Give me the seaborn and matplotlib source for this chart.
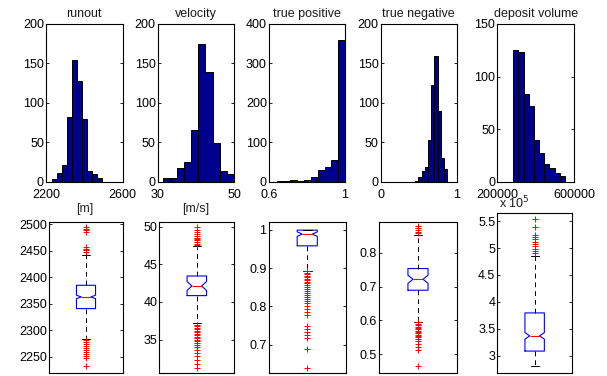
import numpy as np
import pandas as pd
import matplotlib
matplotlib.use("Agg")
import matplotlib.pyplot as plt
import seaborn as sns
from matplotlib.ticker import FuncFormatter

# Panel titles and units
titles = ["runout", "velocity", "true positive", "true negative", "deposit volume"]
units = ["[m]", "[m/s]", "", "", ""]

# Histogram counts (10 bins each) and the range the bins cover
runout_counts = [4, 11, 21, 82, 154, 128, 80, 14, 10, 5]
velocity_counts = [5, 5, 18, 25, 65, 175, 139, 49, 14, 10]
tp_counts = [2, 2, 5, 2, 5, 12, 29, 37, 55, 360]
tn_counts = [1, 6, 13, 19, 53, 123, 159, 90, 30, 16]
volume_counts = [125, 123, 83, 72, 40, 27, 17, 13, 8, 5]
hist_ranges = [(2230, 2492), (31.3, 49.9), (0.6405, 1.0), (0.452, 0.877), (283000, 553000)]

hist_xlim = [(2200, 2600), (30, 50), (0.6, 1), (0, 1), (200000, 600000)]
hist_ylim = [200, 200, 400, 200, 150]
hist_yticks = [[0, 50, 100, 150, 200], [0, 50, 100, 150, 200], [0, 100, 200, 300, 400],
               [0, 50, 100, 150, 200], [0, 50, 100, 150]]

# Box plot summaries: median, quartiles, whisker ends, notch
medians = [2363, 42.12, 0.9886, 0.7213, 337000]
q1s = [2341, 40.84, 0.958, 0.689, 308800]
q3s = [2385, 43.45, 0.999, 0.753, 379600]
whis_lo = [2284, 37.17, 0.893, 0.596, 282000]
whis_hi = [2442, 47.48, 1.0, 0.852, 484300]
notch_half = [3.2, 0.6, 0.006, 0.012, 6000]

runout_fliers = [2495, 2492, 2489, 2486, 2457, 2454, 2451, 2448,
                 2281, 2278, 2275, 2271, 2267, 2263, 2259, 2255, 2251, 2247, 2232]
velocity_fliers = [49.9, 49.6, 49.3, 49.0, 48.7, 48.5, 48.4, 48.2, 47.9, 47.7, 47.6,
                   37.0, 36.8, 36.6, 36.4, 36.2, 36.0, 35.8, 35.6, 35.4, 35.2, 35.0,
                   34.8, 34.6, 34.3, 34.0, 33.6, 33.2, 32.8, 32.3, 31.8, 31.2]
tp_fliers = [0.892, 0.888, 0.884, 0.880, 0.876, 0.872, 0.868, 0.864, 0.860, 0.855,
             0.850, 0.845, 0.840, 0.835, 0.830, 0.825, 0.820, 0.815, 0.810, 0.800,
             0.792, 0.785, 0.778, 0.748, 0.740, 0.733, 0.726, 0.718, 0.690, 0.640]
tn_fliers = [0.877, 0.872, 0.867, 0.862, 0.857,
             0.594, 0.590, 0.586, 0.582, 0.578, 0.574, 0.570, 0.566, 0.562, 0.558,
             0.554, 0.550, 0.545, 0.538, 0.530, 0.522, 0.514, 0.467]
volume_fliers = [553000, 539000, 525000, 520000, 517000, 512000, 508000,
                 503000, 498000, 494000, 490000]

box_ylim = [(2220, 2505), (30.6, 50.66), (0.627, 1.021), (0.446, 0.891), (268700, 564400)]
box_yticks = [[2250, 2300, 2350, 2400, 2450, 2500], [35, 40, 45, 50], [0.7, 0.8, 0.9, 1],
              [0.5, 0.6, 0.7, 0.8], [300000, 350000, 400000, 450000, 500000, 550000]]

all_counts = [runout_counts, velocity_counts, tp_counts, tn_counts, volume_counts]
all_fliers = [runout_fliers, velocity_fliers, tp_fliers, tn_fliers, volume_fliers]

# Layout (pixels on a 607x376 canvas)
W, H = 607, 376
top_boxes = [(46, 76.7), (157.7, 76.6), (269, 76), (380.7, 76), (497.3, 76.7)]
bot_boxes = [(49.3, 73.4), (159.3, 75), (268.5, 77.5), (379.3, 77.4), (497.3, 74.7)]
bot_tops = [221.7, 221.7, 221.7, 221.7, 213.3]

sns.set_style("ticks")
plt.rcParams['font.family'] = ['Liberation Sans', 'DejaVu Sans']
plt.rcParams['font.size'] = 9
plt.rcParams['axes.linewidth'] = 0.8
plt.rcParams['xtick.direction'] = 'in'
plt.rcParams['ytick.direction'] = 'in'
plt.rcParams['xtick.major.size'] = 2.5
plt.rcParams['ytick.major.size'] = 2.5
plt.rcParams['xtick.major.width'] = 0.6
plt.rcParams['ytick.major.width'] = 0.6
plt.rcParams['xtick.color'] = 'black'
plt.rcParams['ytick.color'] = 'black'
plt.rcParams['axes.edgecolor'] = 'black'
plt.rcParams['text.color'] = '#1a1a1a'

fig = plt.figure(figsize=(W / 100, H / 100), dpi=100)
fmt = FuncFormatter(lambda v, p: f"{v:g}")

for i in range(5):
    # histogram row
    left, width = top_boxes[i]
    ax = fig.add_axes([left / W, (H - 181.7) / H, width / W, 157.7 / H])
    lo, hi = hist_ranges[i]
    edges = np.linspace(lo, hi, 11)
    df = pd.DataFrame({"center": (edges[:-1] + edges[1:]) / 2, "count": all_counts[i]})
    sns.histplot(data=df, x="center", weights="count", bins=list(edges), ax=ax,
                 color='#000090', edgecolor='black', linewidth=0.7, alpha=1)
    ax.set_xlim(hist_xlim[i])
    ax.set_ylim(0, hist_ylim[i])
    ax.set_xticks(list(hist_xlim[i]))
    ax.set_yticks(hist_yticks[i])
    ax.xaxis.set_major_formatter(fmt)
    ax.set_ylabel("")
    ax.set_xlabel(units[i], fontsize=9, labelpad=2)
    ax.set_title(titles[i], fontsize=9, pad=5)
    ax.tick_params(top=True, right=True, labelsize=9)
    ax.tick_params(axis='x', pad=5)
    ax.tick_params(axis='y', pad=1.5)

    # box plot row
    left, width = bot_boxes[i]
    top = bot_tops[i]
    bx = fig.add_axes([left / W, (H - 372.7) / H, width / W, (372.7 - top) / H])
    stats = [{
        'med': medians[i], 'q1': q1s[i], 'q3': q3s[i],
        'whislo': whis_lo[i], 'whishi': whis_hi[i],
        'cilo': medians[i] - notch_half[i], 'cihi': medians[i] + notch_half[i],
        'fliers': all_fliers[i],
    }]
    bx.bxp(stats, positions=[1], widths=0.26, shownotches=True, capwidths=0.11,
           boxprops=dict(color='blue', linewidth=0.8),
           medianprops=dict(color='red', linewidth=0.8),
           whiskerprops=dict(color='black', linewidth=0.7, linestyle=(0, (5, 4))),
           capprops=dict(color='black', linewidth=0.7),
           flierprops=dict(marker='+', markeredgecolor='red', markersize=4.5,
                           markeredgewidth=0.7, linestyle='none'))
    bx.set_xlim(0.5, 1.5)
    bx.set_ylim(box_ylim[i])
    bx.set_xticks([])
    bx.set_yticks(box_yticks[i])
    if i == 4:
        bx.yaxis.set_major_formatter(FuncFormatter(lambda v, p: f"{v / 1e5:g}"))
        bx.text(0.02, 1.01, r"x 10$^5$", transform=bx.transAxes, ha='left', va='bottom',
                fontsize=9)
    else:
        bx.yaxis.set_major_formatter(fmt)
    bx.tick_params(right=True, labelsize=9, pad=1.5)

fig.savefig("out.png", dpi=100)
